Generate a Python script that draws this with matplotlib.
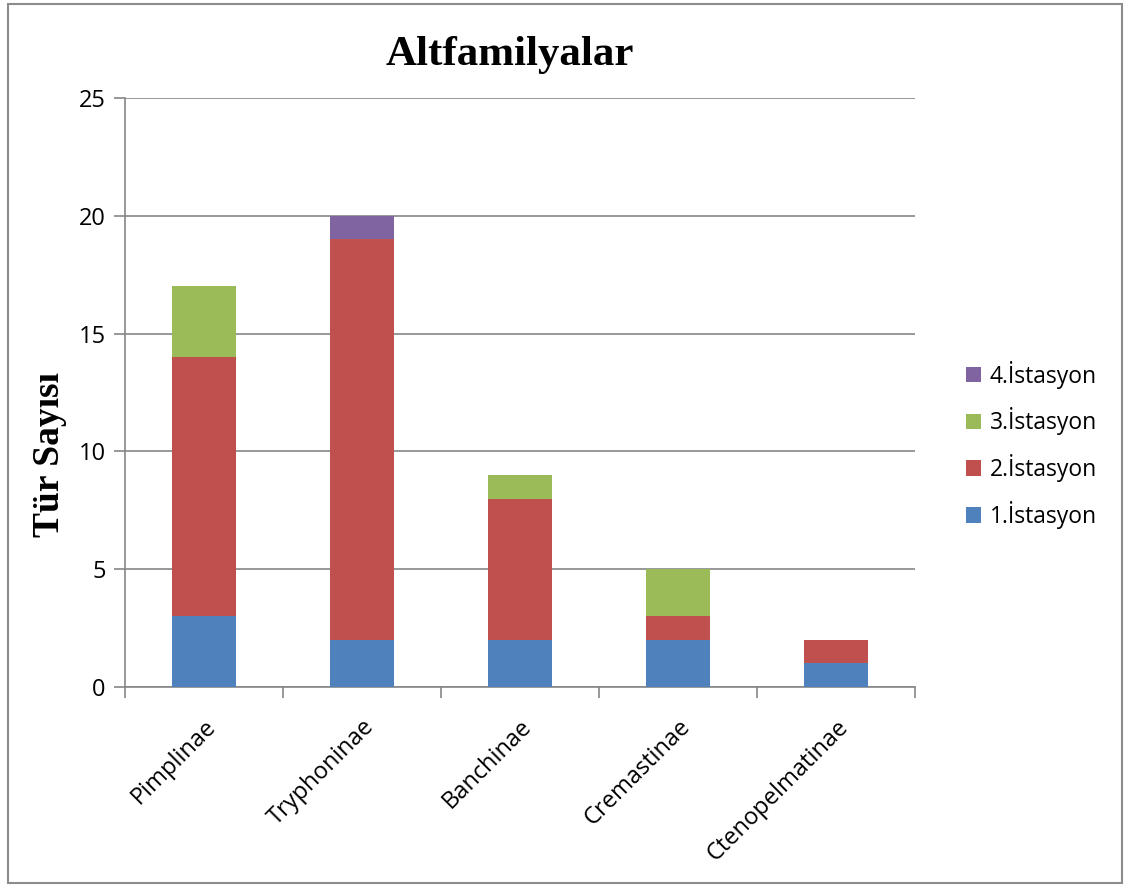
import numpy as np
import matplotlib.pyplot as plt
from matplotlib.patches import Rectangle

# veriler
altfamilya = ["Pimplinae", "Tryphoninae", "Banchinae", "Cremastinae", "Ctenopelmatinae"]
ist1 = [3, 2, 2, 2, 1]
ist2 = [11, 17, 6, 1, 1]
ist3 = [3, 0, 1, 2, 0]
ist4 = [0, 1, 0, 0, 0]
seri_adlari = ["1.İstasyon", "2.İstasyon", "3.İstasyon", "4.İstasyon"]
renkler = ["#4F81BD", "#C0504D", "#9BBB59", "#8064A2"]
yticks = [0, 5, 10, 15, 20, 25]

fig = plt.figure(figsize=(11.28, 8.86), dpi=100)
ax = fig.add_axes([0.1108, 0.2246, 0.7004, 0.6648])

x = np.arange(len(altfamilya))
alt = np.zeros(len(altfamilya))
for seri, renk, ad in zip([ist1, ist2, ist3, ist4], renkler, seri_adlari):
    ax.bar(x, seri, 0.4, bottom=alt, color=renk, label=ad, zorder=3)
    alt += np.array(seri)

ax.set_xlim(-0.5, len(altfamilya) - 0.5)
ax.set_ylim(0, 25)
ax.set_yticks(yticks)
ax.yaxis.grid(True, color="#868686", linewidth=1.2, zorder=0)
for s in ["top", "right"]:
    ax.spines[s].set_visible(False)
for s in ["left", "bottom"]:
    ax.spines[s].set_color("#868686")
    ax.spines[s].set_linewidth(1.2)

ax.set_xticks(x)
ax.set_xticklabels(altfamilya, rotation=45, ha="right", va="top",
                   rotation_mode="anchor", fontsize=17, family="Open Sans")
ax.set_xticks(np.arange(-0.5, len(altfamilya)), minor=True)
ax.tick_params(axis="x", which="major", length=0, pad=20)
ax.tick_params(axis="x", which="minor", length=8, color="#868686", width=1.2)
ax.tick_params(axis="y", length=8, color="#868686", width=1.2, labelsize=17, pad=6)
for t in ax.get_yticklabels():
    t.set_family("Open Sans")

ax.set_ylabel("Tür Sayısı", family="Liberation Serif", fontweight="bold",
              fontsize=27)
ax.yaxis.set_label_coords(-0.073, 0.394)
fig.text(0.452, 0.938, "Altfamilyalar", family="Liberation Serif",
         fontweight="bold", fontsize=31, ha="center", va="center")

h, l = ax.get_legend_handles_labels()
fig.legend(h[::-1], l[::-1], loc="center left", bbox_to_anchor=(0.838, 0.498),
           frameon=False, prop={"family": "Open Sans", "size": 16.5},
           handlelength=0.65, handleheight=0.65, handletextpad=0.4,
           labelspacing=0.82)

fig.patches.append(Rectangle((0.007, 0.003), 0.988, 0.993, transform=fig.transFigure,
                             fill=False, edgecolor="#8c8c8c", linewidth=1.5))

fig.savefig("out.png", dpi=100)
